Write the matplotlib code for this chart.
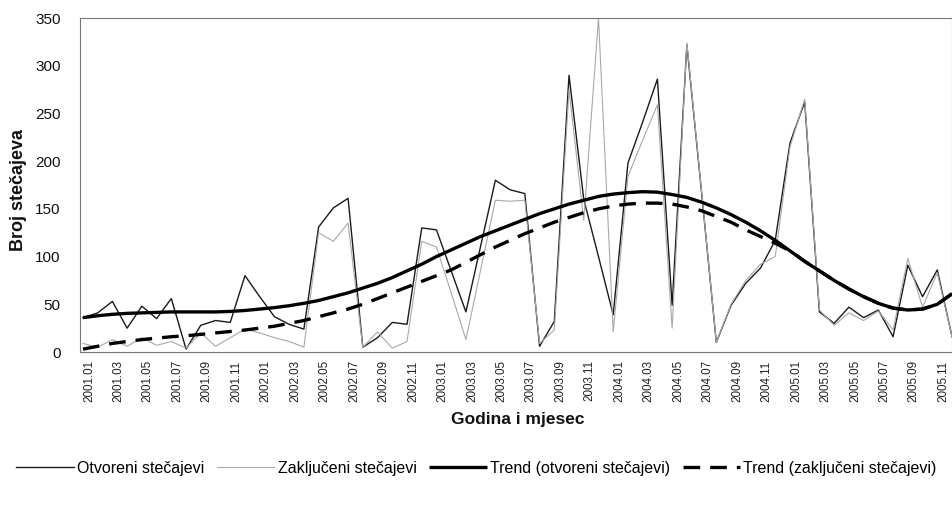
import matplotlib
matplotlib.use("Agg")
import matplotlib.pyplot as plt
import matplotlib.transforms as mtransforms
from matplotlib import font_manager

names = {f.name for f in font_manager.fontManager.ttflist}
narrow = 'Liberation Sans Narrow' if 'Liberation Sans Narrow' in names else 'Liberation Sans'
plt.rcParams['font.family'] = ['Liberation Sans', 'DejaVu Sans']

# ---- data ----
months = [f"{y}.{m:02d}" for y in range(2001, 2006) for m in range(1, 13)]
tick_labels = months[::2]

otvoreni = [36, 41, 53, 25, 48, 35, 56, 3, 28, 33, 31, 80,
            58, 37, 29, 24, 131, 151, 161, 5, 15, 31, 29, 130,
            128, 85, 42, 111, 180, 170, 166, 6, 32, 290, 160, 100,
            39, 198, 241, 286, 49, 322, 167, 10, 49, 72, 88, 117,
            219, 262, 42, 30, 47, 36, 44, 16, 91, 58, 86, 16]

zakljuceni = [9, 5, 13, 6, 15, 7, 11, 4, 20, 6, 15, 24,
              20, 15, 11, 5, 125, 116, 135, 5, 21, 4, 11, 116,
              110, 62, 13, 86, 159, 158, 159, 9, 23, 275, 138, 350,
              21, 184, 222, 259, 25, 324, 168, 10, 50, 75, 92, 100,
              215, 265, 44, 28, 41, 33, 43, 23, 98, 47, 83, 16]

trend_otvoreni = [36, 38, 39.5, 40.5, 41, 41.5, 42, 42, 42, 42, 42.5, 43.5,
                  45, 46.5, 48.5, 51, 54, 58, 62, 67, 72, 78, 85, 92,
                  100, 107, 114, 121, 127, 133, 139, 145, 150, 155, 159, 163,
                  165.5, 167, 168, 167.5, 165, 162, 157, 151, 144, 136, 127, 117,
                  106, 95, 85, 75, 66, 58, 51, 46, 44, 45, 50, 61]

trend_zakljuceni = [3, 6, 9, 11, 13, 14.5, 16, 17, 18.5, 20, 21.5, 23,
                    25, 27, 30, 33, 37, 41, 45, 50, 56, 62, 68, 74,
                    80, 86, 94, 102, 110, 117, 124, 130, 136, 141, 146, 150,
                    153, 155, 156, 156, 155, 152, 148, 142, 136, 128, 121, 114,
                    106, 95, 85, 75, 66, 58, 51, 46, 44, 45, 50, 61]

labels = ["Otvoreni stečajevi", "Zaključeni stečajevi",
          "Trend (otvoreni stečajevi)", "Trend (zaključeni stečajevi)"]

# ---- figure ----
fig = plt.figure(figsize=(9.53, 5.05), dpi=100)
ax = fig.add_axes([80/953, 1-352/505, 872/953, 334/505])

x = list(range(len(months)))
l1, = ax.plot(x, otvoreni, color='#1a1a1a', lw=1.0)
l2, = ax.plot(x, zakljuceni, color='#a8a8a8', lw=0.8)
l3, = ax.plot(x, trend_otvoreni, color='black', lw=2.4, solid_capstyle='butt')
l4, = ax.plot(x, trend_zakljuceni, color='black', lw=2.4, dashes=(5, 3))

ax.set_xlim(-0.2, 59.0)
ax.set_ylim(0, 350)
ax.set_yticks(range(0, 351, 50))
ax.tick_params(axis='y', length=0, pad=14, labelsize=11, colors='#111')
ax.set_xticks(x[::2])
ax.set_xticklabels(tick_labels, rotation=90, fontsize=8.4, color='#222')
ax.tick_params(axis='x', length=0, pad=6)
offset = mtransforms.ScaledTranslation(6/100, 0, fig.dpi_scale_trans)
for lab in ax.get_xticklabels():
    lab.set_transform(lab.get_transform() + offset)

for s in ax.spines.values():
    s.set_color('#777')
    s.set_linewidth(0.8)
    s.set_linestyle((0, (1, 1)))

ax.set_ylabel("Broj stečajeva", fontsize=13, fontweight='bold', color='#111')
ax.yaxis.set_label_coords(-0.061, 0.485)
ax.set_xlabel("Godina i mjesec", fontsize=12.5, fontweight='bold', color='#111',
              family=[narrow, 'Liberation Sans', 'DejaVu Sans'])
ax.xaxis.set_label_coords(0.502, -0.18)

fig.legend([l1, l2, l3, l4], labels, loc='center', bbox_to_anchor=(0.5, 1-468/505),
           ncol=4, frameon=False, handlelength=3.6, handletextpad=0.2,
           columnspacing=0.8, prop={'family': [narrow, 'Liberation Sans'], 'size': 11.5})

fig.savefig("out.png", dpi=100)
